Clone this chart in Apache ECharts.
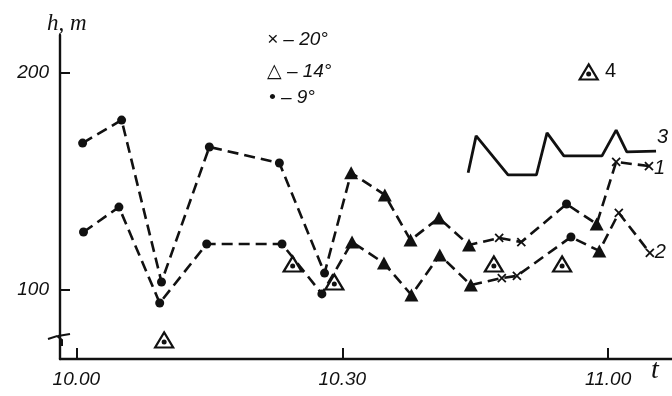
<!DOCTYPE html>
<html>
<head>
<meta charset="utf-8">
<script src="https://cdn.jsdelivr.net/npm/echarts@6/dist/echarts.min.js"></script>
<style>html,body{margin:0;padding:0;background:#fff}#c{width:672px;height:396px}</style>
</head>
<body>
<div id="c"></div>
<script>
// ---- data (minutes after 10.00, height in m) ----
const xTicks = [0, 30, 60];
const xTickLabels = ['10.00', '10.30', '11.00'];
const yTicks = [100, 200];

const times1 = [0.7, 5.1, 9.6, 15.0, 22.9, 28.0, 31.0, 34.8, 37.7, 40.9, 44.3, 47.7, 50.2, 55.3, 58.7, 60.9, 64.6];
const heights1 = [167.7, 178.3, 103.7, 165.9, 158.5, 107.8, 154, 143.8, 123, 133.2, 120.7, 124, 122.1, 139.6, 130.4, 159, 157.1];
const temps1 = [9, 9, 9, 9, 9, 9, 14, 14, 14, 14, 14, 20, 20, 9, 14, 20, 20];

const times2 = [0.8, 4.8, 9.4, 14.7, 23.2, 27.7, 31.1, 34.7, 37.8, 41.0, 44.5, 48.0, 49.7, 55.8, 59.0, 61.2, 64.7];
const heights2 = [126.7, 138.2, 94, 121.2, 121.2, 98.2, 122.1, 112.4, 97.7, 116.1, 102.3, 105.5, 106.5, 124.4, 118, 135.5, 117.1];
const temps2 = [9, 9, 9, 9, 9, 9, 14, 14, 14, 14, 14, 20, 20, 9, 14, 20, 20];

const times3 = [44.2, 45.1, 48.7, 51.9, 53.1, 55.0, 59.3, 60.9, 62.1, 65.4];
const heights3 = [154, 171, 153, 153, 172.4, 161.8, 161.8, 173.7, 163.6, 164];

const times4 = [9.9, 24.4, 29.1, 47.1, 54.8, 57.8];
const heights4 = [77, 112, 103.7, 112, 112, 200.5];

const seriesNames = ['1', '2', '3', '4'];
const legendLines = ['\u00d7 \u2013 20\u00b0', '\u25b3 \u2013 14\u00b0', '\u2022 \u2013 9\u00b0'];

// ---- styling helpers ----
const FONT = '"Liberation Sans", "DejaVu Sans", sans-serif';
const SERIF = '"Liberation Serif", "DejaVu Serif", serif';
const CROSS = 'path://M0,0L10,10M10,0L0,10';
const INK = '#111';

function markerItem(t, h, temp) {
  if (temp === 9) return { value: [t, h], symbol: 'circle', symbolSize: 9, itemStyle: { color: INK, borderWidth: 0 } };
  if (temp === 14) return { value: [t, h], symbol: 'triangle', symbolSize: [14, 13], itemStyle: { color: INK, borderWidth: 0 } };
  return { value: [t, h], symbol: CROSS, symbolSize: 8, itemStyle: { color: 'none', borderColor: INK, borderWidth: 1.8 } };
}
function build(ts, hs, temps) { return ts.map((t, i) => markerItem(t, hs[i], temps[i])); }
function pairs(ts, hs) { return ts.map((t, i) => [t, hs[i]]); }

const chart = echarts.init(document.getElementById('c'), null, { renderer: 'canvas' });

const endLabel = (txt, dx, dy) => ({
  show: true, formatter: txt, color: INK, fontFamily: FONT, fontStyle: 'italic', fontSize: 20,
  offset: [dx, dy], distance: 5
});

const option = {
  backgroundColor: '#fff',
  animation: false,
  grid: { left: 60, right: 0, top: 35, bottom: 37, containLabel: false, outerBoundsMode: 'none' },
  xAxis: {
    type: 'value', min: -1.85, max: 67.2,
    axisLine: { show: true, onZero: false, lineStyle: { color: INK, width: 2.4 } },
    axisTick: { show: true, inside: true, length: 11, customValues: xTicks, lineStyle: { color: INK, width: 2 } },
    axisLabel: {
      show: true, customValues: xTicks, margin: 11, color: INK, fontFamily: FONT, fontStyle: 'italic', fontSize: 19,
      formatter: v => xTickLabels[xTicks.indexOf(v)] || ''
    },
    splitLine: { show: false }
  },
  yAxis: {
    type: 'value', min: 68.2, max: 217.5,
    axisLine: { show: true, onZero: false, lineStyle: { color: INK, width: 2.4 } },
    axisTick: { show: true, inside: true, length: 10, customValues: yTicks, lineStyle: { color: INK, width: 2 } },
    axisLabel: {
      show: true, customValues: yTicks, margin: 11, color: INK, fontFamily: FONT, fontStyle: 'italic', fontSize: 19
    },
    splitLine: { show: false }
  },
  series: [
    {
      name: seriesNames[0], type: 'line', data: build(times1, heights1, temps1),
      lineStyle: { color: INK, width: 2.6, type: [11, 6] }, showSymbol: true, z: 3,
      endLabel: endLabel(seriesNames[0], 0, 2)
    },
    {
      name: seriesNames[1], type: 'line', data: build(times2, heights2, temps2),
      lineStyle: { color: INK, width: 2.6, type: [11, 6] }, showSymbol: true, z: 3,
      endLabel: endLabel(seriesNames[1], 0, 0)
    },
    {
      name: seriesNames[2], type: 'line', data: pairs(times3, heights3), showSymbol: false,
      lineStyle: { color: INK, width: 2.8 }, z: 3,
      endLabel: endLabel(seriesNames[2], -4, -14)
    },
    {
      name: seriesNames[3], type: 'scatter', data: pairs(times4, heights4), symbol: 'triangle', symbolSize: [18, 15],
      itemStyle: { color: '#fff', borderColor: INK, borderWidth: 2.2, opacity: 1 }, z: 4,
      label: {
        show: true, position: 'right', distance: 6, color: INK, fontFamily: FONT, fontSize: 20,
        formatter: p => (p.dataIndex === times4.length - 1 ? seriesNames[3] : '')
      }
    },
    {
      name: seriesNames[3] + 'dot', type: 'scatter', data: pairs(times4, heights4), symbol: 'circle', symbolSize: 5,
      symbolOffset: [0, 2], itemStyle: { color: INK, opacity: 1 }, z: 5, silent: true
    }
  ],
  graphic: [
    { type: 'text', left: 47, top: 12, style: { text: 'h, m', font: 'italic 23px ' + SERIF, fill: INK } },
    { type: 'text', left: 651, top: 357, style: { text: 't', font: 'italic 28px ' + SERIF, fill: INK } },
    { type: 'text', left: 267, top: 30, style: { text: legendLines[0], font: 'italic 19px ' + FONT, fill: INK } },
    { type: 'text', left: 267, top: 62, style: { text: legendLines[1], font: 'italic 19px ' + FONT, fill: INK } },
    { type: 'text', left: 269, top: 88, style: { text: legendLines[2], font: 'italic 19px ' + FONT, fill: INK } },
    { type: 'polyline', shape: { points: [[48, 339], [57, 336], [62, 340], [62, 346]] }, style: { stroke: INK, lineWidth: 2, fill: 'none' } },
    { type: 'polyline', shape: { points: [[58, 336], [70, 334]] }, style: { stroke: INK, lineWidth: 2, fill: 'none' } }
  ]
};
chart.setOption(option);
</script>
</body>
</html>
